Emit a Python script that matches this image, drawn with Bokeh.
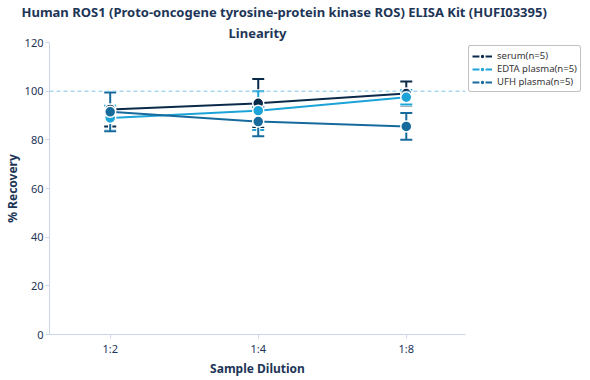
from bokeh.plotting import figure
from bokeh.models import (Range1d, FixedTicker, Whisker, TeeHead, ColumnDataSource,
                          Span, Legend, LegendItem, Title)
from bokeh.embed import file_html
from bokeh.resources import INLINE

# ---- data ----
dilutions = ["1:2", "1:4", "1:8"]
x_pos = [0, 1, 2]
serum = [92.5, 95.0, 99.0]
serum_err = [7.0, 10.0, 5.0]
edta = [89.0, 92.0, 97.5]
edta_err = [5.0, 8.0, 3.0]
ufh = [91.5, 87.5, 85.5]
ufh_err = [8.0, 6.0, 5.5]
series_names = ["serum(n=5)", "EDTA plasma(n=5)", "UFH plasma(n=5)"]
y_ticks = [0, 20, 40, 60, 80, 100, 120]
reference_level = 100

colors = ["#0b2a4a", "#1ca3d8", "#176a9c"]
FONT = "Noto Sans"
TEXT = "#1d3557"

p = figure(frame_width=416, frame_height=292, output_backend="svg", toolbar_location=None,
           x_range=Range1d(-0.41, 2.4), y_range=Range1d(0, 120),
           min_border_left=0, min_border_right=0, min_border_top=0, min_border_bottom=0)
p.outline_line_color = None
p.xgrid.grid_line_color = None
p.ygrid.grid_line_color = None

# titles
t2 = Title(text="Linearity", align="center", text_font=FONT, text_font_size="13px",
           text_font_style="bold", text_color=TEXT, standoff=2)
p.add_layout(t2, "above")
t1 = Title(text="Human ROS1  (Proto-oncogene tyrosine-protein kinase ROS) ELISA Kit (HUFI03395)",
           align="left", offset=-28, text_font=FONT, text_font_size="13px",
           text_font_style="bold", text_color=TEXT, standoff=0)
p.add_layout(t1, "above")

# axes
for ax in (p.xaxis[0], p.yaxis[0]):
    ax.axis_line_color = "#ccd6eb"
    ax.major_tick_line_color = "#ccd6eb"
    ax.major_tick_out = 4
    ax.major_tick_in = 0
    ax.minor_tick_line_color = None
    ax.major_label_text_font = FONT
    ax.major_label_text_font_size = "11px"
    ax.major_label_text_color = TEXT
    ax.axis_label_text_font = FONT
    ax.axis_label_text_font_size = "12px"
    ax.axis_label_text_font_style = "bold"
    ax.axis_label_text_color = TEXT
    ax.axis_label_standoff = 1
    ax.major_label_standoff = 2

p.xaxis.ticker = FixedTicker(ticks=x_pos)
p.xaxis.major_label_overrides = {x: d for x, d in zip(x_pos, dilutions)}
p.xaxis.axis_label = "Sample Dilution"
p.yaxis.ticker = FixedTicker(ticks=y_ticks)
p.yaxis.axis_label = "% Recovery"

p.add_layout(Span(location=reference_level, dimension="width", line_color="#7cc6e6",
                  line_dash="4 3", line_width=1))

items = []
for name, vals, errs, c in zip(series_names, [serum, edta, ufh],
                               [serum_err, edta_err, ufh_err], colors):
    src = ColumnDataSource(dict(x=x_pos, y=vals,
                                upper=[v + e for v, e in zip(vals, errs)],
                                lower=[v - e for v, e in zip(vals, errs)]))
    ln = p.line("x", "y", source=src, line_color=c, line_width=2)
    halo = Whisker(base="x", upper="upper", lower="lower", source=src,
                   line_color="white", line_width=4,
                   upper_head=TeeHead(size=14, line_color="white", line_width=4),
                   lower_head=TeeHead(size=14, line_color="white", line_width=4))
    wh = Whisker(base="x", upper="upper", lower="lower", source=src,
                 line_color=c, line_width=2,
                 upper_head=TeeHead(size=12, line_color=c, line_width=2),
                 lower_head=TeeHead(size=12, line_color=c, line_width=2))
    p.add_layout(halo)
    p.add_layout(wh)
    sc = p.scatter("x", "y", source=src, size=11, fill_color=c, line_color="white",
                   line_width=1.5)
    items.append(LegendItem(label=name, renderers=[ln, sc]))

legend = Legend(items=items, location="top_left", margin=3, padding=3, spacing=0,
                label_text_font=FONT, label_text_font_size="9.5px", label_text_color="#333333",
                label_height=12, glyph_height=12, glyph_width=20, label_standoff=5,
                border_line_color="#999999", border_line_alpha=0.6,
                border_radius=3, background_fill_alpha=1)
p.add_layout(legend, "right")

open("out.html", "w").write(file_html(p, INLINE))
